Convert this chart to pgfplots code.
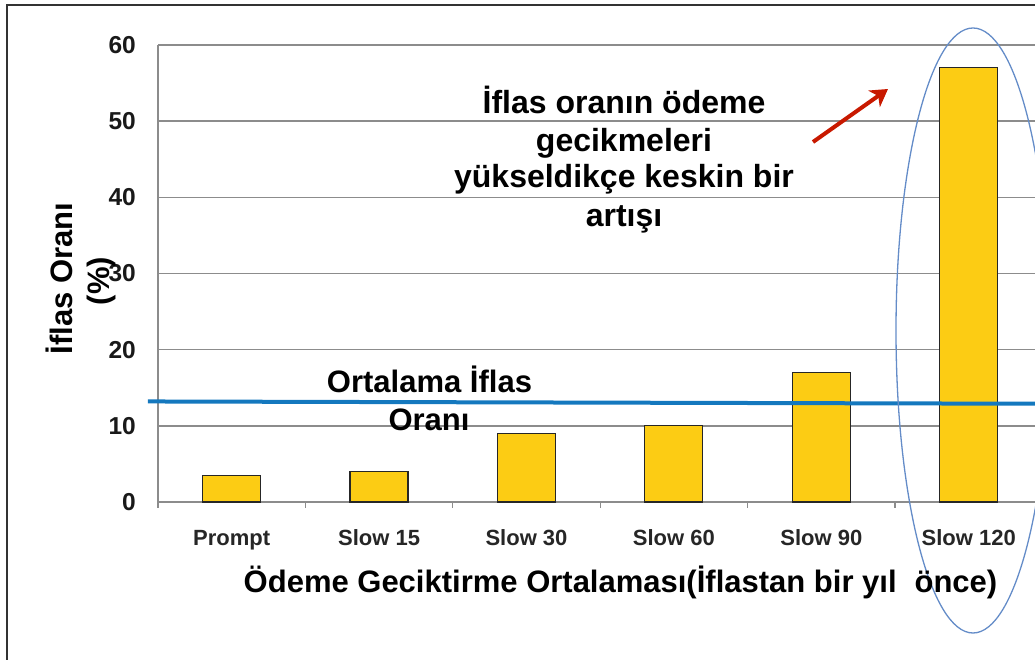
\documentclass[border=0pt]{standalone}
\usepackage{fontspec}
\setmainfont{Liberation Sans}
\usepackage{pgfplots}
\pgfplotsset{compat=1.18}
\usetikzlibrary{arrows.meta}
\definecolor{barfill}{RGB}{252,204,20}
\definecolor{gridgray}{RGB}{140,140,140}
\definecolor{avgblue}{RGB}{20,120,190}
\definecolor{ellblue}{RGB}{100,140,200}
\definecolor{arrred}{RGB}{200,25,0}
\begin{document}
\begin{tikzpicture}
\useasboundingbox (0pt,0pt) rectangle (1035pt,660pt);
% outer frame
\draw[line width=2pt, black!80] (7pt,-5pt) -- (7pt,655pt) -- (1040pt,655pt);
\begin{axis}[
  at={(158pt,158pt)}, anchor=south west,
  scale only axis, width=877pt, height=457pt,
  xmin=-0.5, xmax=5.45, ymin=0, ymax=60,
  clip=false,
  axis x line*=bottom, axis y line*=left,
  axis line style={gridgray, line width=1.5pt},
  xtick={0,1,2,3,4,5},
  xticklabels={Prompt,Slow 15,Slow 30,Slow 60,Slow 90,Slow 120},
  minor xtick={-0.5,0.5,1.5,2.5,3.5,4.5},
  major tick length=0pt, minor tick length=6pt, tick align=outside,
  every tick/.style={gridgray, line width=1.2pt},
  ytick={0,10,20,30,40,50,60},
  yticklabels={0,10,20,30,40,50,60},
  ymajorgrids,
  grid style={gridgray, line width=1.5pt},
  xticklabel style={font=\bfseries\fontsize{22}{22}\selectfont, text=black!85, anchor=base, yshift=-44pt},
  yticklabel style={font=\bfseries\fontsize{24.5}{24.5}\selectfont, text=black!90, anchor=east, inner sep=0pt, xshift=-22pt},
]
\addplot[ybar, bar width=58pt, fill=barfill, draw=black!85, line width=1.2pt]
  coordinates {(0,3.5) (1,4) (2,9) (3,10) (4,17) (5,57)};
\addplot[avgblue, line width=4pt, sharp plot, mark=none]
  coordinates {(-0.568,13.2) (5.45,12.9)};
\end{axis}
% ellipse around Slow 120
\draw[ellblue, line width=1.3pt] (973pt,329.5pt) ellipse [x radius=77pt, y radius=302.5pt];
% arrow
\draw[arrred, line width=4pt, -{Stealth[length=17pt, width=20pt, inset=5pt]}] (813pt,518pt) -- (888pt,571pt);
% annotation
\begin{scope}[every node/.style={font=\bfseries\fontsize{32}{38}\selectfont, anchor=base, inner sep=0pt}]
\node at (624pt,546pt) {İflas oranın ödeme};
\node at (624pt,508pt) {gecikmeleri};
\node at (624pt,472pt) {yükseldikçe keskin bir};
\node at (624pt,433pt) {artışı};
\end{scope}
\begin{scope}[every node/.style={font=\bfseries\fontsize{31}{36}\selectfont, anchor=base, inner sep=0pt}]
\node at (429.5pt,267pt) {Ortalama İflas};
\node at (429pt,229pt) {Oranı};
\node at (620.5pt,67pt) {Ödeme Geciktirme Ortalaması(İflastan bir yıl\hspace{0.3em} önce)};
\node[rotate=90] at (72pt,381.5pt) {İflas Oranı};
\node[rotate=90] at (109pt,379pt) {(\%)};
\end{scope}
\end{tikzpicture}
\end{document}
